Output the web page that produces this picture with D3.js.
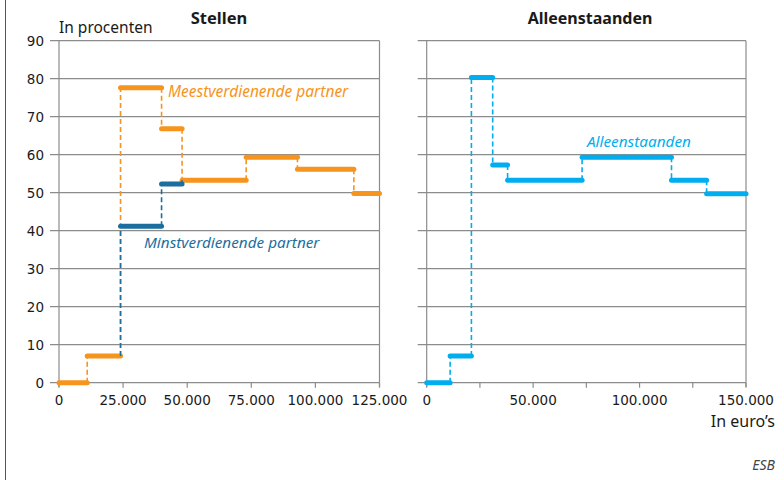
<!DOCTYPE html>
<html>
<head>
<meta charset="utf-8">
<script src="https://cdn.jsdelivr.net/npm/d3@7"></script>
<style>
  body { margin: 0; background: #fff; }
  svg text { font-family: "Noto Sans", "Open Sans", sans-serif; fill: #1a1a1a; }
  svg text.tick { font-family: "DejaVu Sans", sans-serif; }
</style>
</head>
<body>
<div id="chart"></div>
<script>
// step data (income in euro, share in percent)
const stellenBreaks = [0, 11000, 24000, 40000, 48000, 73000, 93000, 115000, 125000];
const meestValues = [0, 7, 77.6, 66.8, 53.3, 59.3, 56.2, 49.8];
// the lower earner follows the same path below 24.000 and above 48.000
const minstBreaks = [24000, 40000, 48000];
const minstValues = [41.2, 52.3];
const minstStart = 7, minstEnd = 53.3;
const alleenBreaks = [0, 11000, 21000, 31000, 38000, 73000, 115000, 131500, 150000];
const alleenValues = [0, 7, 80.3, 57.3, 53.3, 59.3, 53.3, 49.7];
const yTicks = [0, 10, 20, 30, 40, 50, 60, 70, 80, 90];
const stellenTicks = [0, 25000, 50000, 75000, 100000, 125000];
const alleenTicks = [0, 25000, 50000, 75000, 100000, 125000, 150000];
const alleenLabels = [0, 50000, 100000, 150000];

const orange = "#f7941d", darkBlue = "#1c6e9e", lightBlue = "#00aeef", grid = "#8c8c8c";

let svg = d3.select("#chart").append("svg")
  .attr("width", 784)
  .attr("height", 480);

// outer left border line
svg.append("line")
  .attr("x1", 5.5).attr("x2", 5.5).attr("y1", 0).attr("y2", 480)
  .attr("stroke", "#555").attr("stroke-width", 1);

let y = d3.scaleLinear().domain([0, 90]).range([382.7, 40.7]);

let fmt = d => d3.format(",")(d).replace(/,/g, ".");

function panel(x0, x1, maxX, ticks, labels, showY) {
  let x = d3.scaleLinear().domain([0, maxX]).range([x0, x1]);
  let g = svg.append("g");

  // horizontal grid lines
  g.selectAll(".grid").data(yTicks).enter().append("line")
    .attr("x1", x0 - 9).attr("x2", x1)
    .attr("y1", d => y(d)).attr("y2", d => y(d))
    .attr("stroke", grid).attr("stroke-width", 1.2);

  // y axis and right border
  g.append("line").attr("x1", x0).attr("x2", x0).attr("y1", y(90)).attr("y2", y(0) + 4)
    .attr("stroke", grid).attr("stroke-width", 1.2);
  g.append("line").attr("x1", x1).attr("x2", x1).attr("y1", y(90)).attr("y2", y(0) + 4)
    .attr("stroke", grid).attr("stroke-width", 1.2);

  // x ticks
  g.selectAll(".xt").data(ticks).enter().append("line")
    .attr("x1", d => x(d)).attr("x2", d => x(d))
    .attr("y1", y(0)).attr("y2", y(0) + 5)
    .attr("stroke", grid).attr("stroke-width", 1.2);

  g.selectAll(".xl").data(labels).enter().append("text")
    .attr("class", "tick")
    .attr("x", d => x(d)).attr("y", 405)
    .attr("text-anchor", "middle")
    .attr("font-size", 13.5)
    .text(d => fmt(d));

  if (showY) {
    g.selectAll(".yl").data(yTicks).enter().append("text")
      .attr("class", "tick")
      .attr("x", x0 - 15).attr("y", d => y(d) + 5)
      .attr("text-anchor", "end")
      .attr("font-size", 13.5)
      .text(d => d);
  }
  return x;
}

function steps(x, breaks, values, color, first, last) {
  let segs = values.map((v, i) => ({ x1: breaks[i], x2: breaks[i + 1], v: v }));
  let risers = values.slice(1).map((v, i) => ({ x: breaks[i + 1], a: values[i], b: v }));
  if (first !== undefined) risers.unshift({ x: breaks[0], a: first, b: values[0] });
  if (last !== undefined) risers.push({ x: breaks[breaks.length - 1], a: values[values.length - 1], b: last });

  svg.append("g").selectAll("line").data(risers).enter().append("line")
    .attr("x1", d => x(d.x)).attr("x2", d => x(d.x))
    .attr("y1", d => y(d.a)).attr("y2", d => y(d.b))
    .attr("stroke", color).attr("stroke-width", 1.6)
    .attr("stroke-dasharray", "5,3");

  svg.append("g").selectAll("line").data(segs).enter().append("line")
    .attr("x1", d => x(d.x1)).attr("x2", d => x(d.x2))
    .attr("y1", d => y(d.v)).attr("y2", d => y(d.v))
    .attr("stroke", color).attr("stroke-width", 5)
    .attr("stroke-linecap", "round");
}

let xs = panel(59, 379.5, 125000, stellenTicks, stellenTicks, true);
let xa = panel(426.7, 746, 150000, alleenTicks, alleenLabels, false);

steps(xs, stellenBreaks, meestValues, orange);
steps(xs, minstBreaks, minstValues, darkBlue, minstStart, minstEnd);
steps(xa, alleenBreaks, alleenValues, lightBlue);

// titles
svg.append("text").attr("x", 219).attr("y", 24).attr("text-anchor", "middle")
  .attr("font-size", 16.5).attr("font-weight", "bold").text("Stellen");
svg.append("text").attr("x", 590).attr("y", 24).attr("text-anchor", "middle")
  .attr("font-size", 16).attr("font-weight", "bold").text("Alleenstaanden");
svg.append("text").attr("x", 59).attr("y", 33).attr("font-size", 15.5).text("In procenten");
svg.append("text").attr("x", 775).attr("y", 427).attr("text-anchor", "end")
  .attr("font-size", 16).text("In euro’s");
svg.append("text").attr("x", 775).attr("y", 470).attr("text-anchor", "end")
  .attr("font-size", 14).attr("font-style", "italic").style("fill", "#444").text("ESB");

// series labels
svg.append("text").attr("x", 168).attr("y", 97).attr("font-size", 15.5)
  .attr("font-style", "italic").style("fill", orange).text("Meestverdienende partner");
svg.append("text").attr("x", 144).attr("y", 248).attr("font-size", 15.3)
  .attr("font-style", "italic").style("fill", darkBlue).text("Minstverdienende partner");
svg.append("text").attr("x", 587).attr("y", 147).attr("font-size", 15.3)
  .attr("font-style", "italic").style("fill", lightBlue).text("Alleenstaanden");
</script>
</body>
</html>
